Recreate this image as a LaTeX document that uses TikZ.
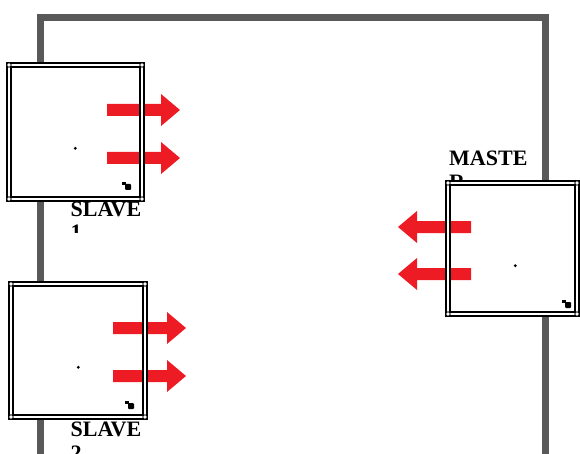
\documentclass[tikz,border=0pt]{standalone}
\usepackage{fontspec}
\setmainfont{Liberation Serif}
\definecolor{framegray}{HTML}{595959}
\definecolor{arrowred}{HTML}{ED1C24}
\begin{document}
\begin{tikzpicture}[x=1pt,y=-1pt,
  frame/.style={draw=framegray,line width=7pt,line cap=butt,line join=miter},
  boxfill/.style={fill=white,draw=none,inner sep=0,outer sep=0},
  dbl/.style={draw=black,double=white,line width=2pt,double distance=1.5pt},
  handle/.style={circle,draw=black,fill=white,line width=0.9pt,inner sep=0,minimum size=4.4pt},
  lbl/.style={font=\fontsize{22}{24}\selectfont\bfseries,inner sep=0,text width=100pt,align=left,anchor=base west},
  cdot/.style={circle,fill=black,inner sep=0,minimum size=3.2pt},
  pics/rarrow/.style={code={\fill[arrowred] (0,-6) -- (54,-6) -- (54,-16) -- (73,0) -- (54,16) -- (54,6) -- (0,6) -- cycle;}},
  pics/glyph/.style={code={\fill (0,0) rectangle (4,3); \fill[rounded corners=1pt] (3,2) rectangle (9,8);}}]
\clip (0,0) rectangle (580,454);
% frame
\path[frame] (40.5,454) -- (40.5,17.5) -- (545.5,17.5) -- (545.5,454);
% labels
\begin{scope}
  \clip (60,190) rectangle (200,232);
  \node[lbl] (l1) at (70.5,216) {SLAVE\\1};
\end{scope}
\node[lbl] (l2) at (70.5,436) {SLAVE\\2};
\node[lbl] (lm) at (449,166) {MASTE\\R};
% box fills
\node[boxfill,minimum width=133pt,minimum height=134pt] (s1) at (75.5,132) {};
\node[boxfill,minimum width=134pt,minimum height=133pt] (s2) at (78,350.5) {};
\node[boxfill,minimum width=129pt,minimum height=131pt] (m) at (512.5,248.5) {};
% arrows
\pic at (107,110) {rarrow};
\pic at (107,158) {rarrow};
\pic at (113,328) {rarrow};
\pic at (113,376) {rarrow};
\pic[xscale=-1] at (471,227) {rarrow};
\pic[xscale=-1] at (471,274) {rarrow};
% borders
\foreach \b in {s1,s2,m}{
  \draw[dbl] (\b.north west) rectangle (\b.south east);
  \foreach \c in {north west,north east,south west,south east}
    \node[handle] (h-\b-\c) at (\b.\c) {};
}
% centre dots
\node[cdot] (d1) at (75.3,148.3) {};
\node[cdot] (d2) at (78.3,367.3) {};
\node[cdot] (dm) at (515.3,265.7) {};
% small glyphs
\pic at (122,182) {glyph};
\pic at (125,401) {glyph};
\pic at (562,300) {glyph};
\end{tikzpicture}
\end{document}
